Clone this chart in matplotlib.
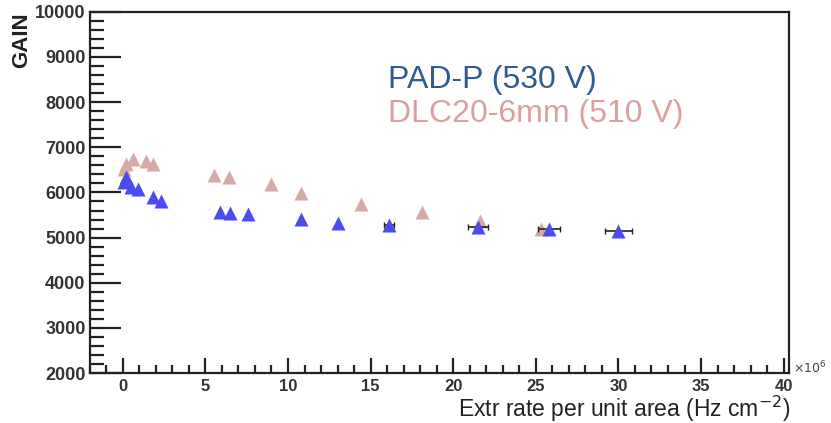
import matplotlib

matplotlib.use("Agg")
import matplotlib.pyplot as plt
from matplotlib.ticker import MultipleLocator

plt.rcParams["font.family"] = ["Liberation Sans", "DejaVu Sans"]

# rate in units of 1e6 Hz cm^-2, gain
pad_rate = [0.2, 0.1, 0.5, 0.9, 1.8, 2.3, 5.9, 6.5, 7.6, 10.8, 13.0, 16.1, 21.5, 25.8, 30.0]
pad_gain = [6340, 6230, 6120, 6080, 5900, 5800, 5560, 5540, 5520, 5410, 5320, 5280, 5230, 5190, 5140]
pad_xerr = [0, 0, 0, 0, 0, 0, 0, 0, 0, 0, 0, 0.3, 0.6, 0.65, 0.8]

dlc_rate = [0.1, 0.2, 0.6, 1.4, 1.8, 5.5, 6.4, 9.0, 10.8, 14.4, 18.1, 21.6, 25.3]
dlc_gain = [6520, 6630, 6740, 6700, 6630, 6390, 6340, 6180, 5990, 5740, 5560, 5360, 5190]

fig = plt.figure(figsize=(8.31, 4.23), dpi=100)
ax = fig.add_axes([0.108, 0.118, 0.841, 0.854])

ax.plot(dlc_rate, dlc_gain, "^", color="#d6aaa6", ms=10, mec="none", zorder=2)
ax.errorbar(pad_rate, pad_gain, xerr=pad_xerr, fmt="^", color="#4b4bf0", ms=10,
            mec="none", ecolor="#222222", elinewidth=1.2, capsize=2, zorder=3)

ax.set_xlim(-2, 40.3)
ax.set_ylim(2000, 10000)
ax.xaxis.set_major_locator(MultipleLocator(5))
ax.xaxis.set_minor_locator(MultipleLocator(1))
ax.yaxis.set_major_locator(MultipleLocator(1000))
ax.yaxis.set_minor_locator(MultipleLocator(200))
ax.tick_params(which="both", direction="in", top=False, right=False,
               width=1.6, color="#222222")
ax.tick_params(axis="y", which="major", length=22, pad=3, labelsize=13)
ax.tick_params(axis="y", which="minor", length=10)
ax.tick_params(axis="x", which="major", length=11, pad=4, labelsize=12)
ax.tick_params(axis="x", which="minor", length=6)
for lab in ax.get_xticklabels() + ax.get_yticklabels():
    lab.set_fontweight("bold")
    lab.set_color("#333333")
for s in ax.spines.values():
    s.set_linewidth(1.6)
    s.set_color("#222222")

fig.text(0.026, 0.97, "GAIN", rotation=90, ha="center", va="top",
         fontsize=16, fontweight="bold", color="#222222")
fig.text(0.951, 0.014, "Extr rate per unit area (Hz cm$^{-2}$)", ha="right",
         va="baseline", fontsize=16.5, color="#222222")
fig.text(0.954, 0.13, r"$\times10^6$", ha="left", va="center", fontsize=9, color="#444444")

ax.text(0.427, 0.79, "PAD-P (530 V)", transform=ax.transAxes, fontsize=23, color="#2f5a94")
ax.text(0.427, 0.695, "DLC20-6mm (510 V)", transform=ax.transAxes, fontsize=23, color="#dba09d")

fig.savefig("out.png", dpi=100, facecolor="white")
